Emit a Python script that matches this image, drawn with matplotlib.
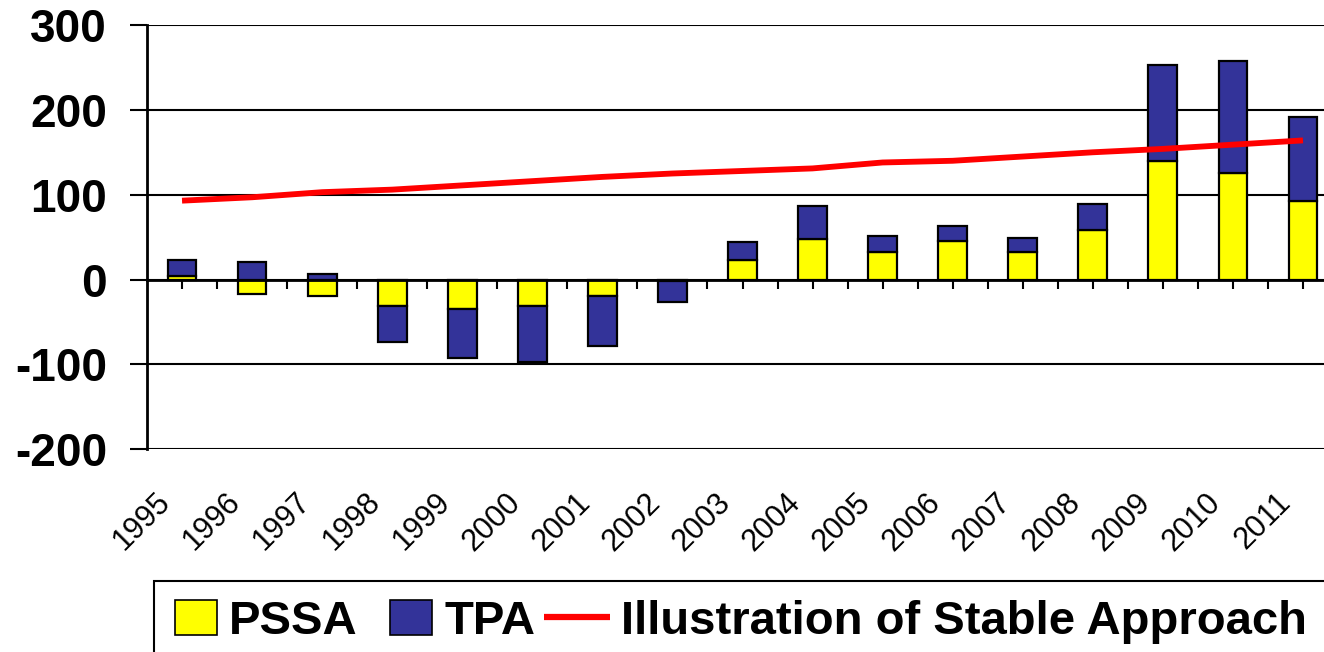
import numpy as np
import matplotlib
matplotlib.use("Agg")
import matplotlib.pyplot as plt
import matplotlib.patches as mpatches
from matplotlib.lines import Line2D
from matplotlib.legend_handler import HandlerPatch

plt.rcParams['font.family'] = ['Liberation Sans', 'DejaVu Sans']

years = ['1995', '1996', '1997', '1998', '1999', '2000', '2001', '2002', '2003',
         '2004', '2005', '2006', '2007', '2008', '2009', '2010', '2011']
pssa = [4, -17, -19, -31, -35, -31, -19, -2, 23, 48, 32, 46, 32, 58, 140, 126, 93]
tpa = [19, 21, 7, -42, -57, -66, -59, -25, 21, 39, 19, 17, 17, 31, 113, 132, 99]
stable = [93, 97, 103, 106, 111, 116, 121, 125, 128, 131, 138, 140, 145, 150, 154, 159, 164]
y_ticks = [-200, -100, 0, 100, 200, 300]

W, H = 1324, 652
fig = plt.figure(figsize=(W / 100, H / 100), dpi=100)
ax = fig.add_axes([147 / W, 202.7 / H, (1338 - 147) / W, (627 - 202.7) / H])

x = np.arange(len(years))
tpa_bottom = [p if (p >= 0) == (t >= 0) else 0 for p, t in zip(pssa, tpa)]

bw = 0.41
ax.bar(x, pssa, width=bw, color='#FFFF00', edgecolor='black', linewidth=1.6,
       zorder=2, label='PSSA')
ax.bar(x, tpa, width=bw, bottom=tpa_bottom, color='#333399', edgecolor='black',
       linewidth=1.6, zorder=2, label='TPA')
ax.plot(x, stable, color='#FF0000', linewidth=4.2, zorder=3,
        solid_capstyle='butt', label='Illustration of Stable Approach')

ax.set_xlim(-0.5, len(years) - 0.5)
ax.set_ylim(min(y_ticks), max(y_ticks))
ax.set_yticks(y_ticks)
ax.set_yticklabels([str(v) for v in y_ticks], fontsize=33, fontweight='bold')
ax.yaxis.grid(True, color='black', linewidth=1.5, zorder=0)
ax.set_axisbelow(True)
ax.tick_params(axis='y', direction='out', length=12.2, width=1.5, pad=16.5,
               colors='black')

for s in ['top', 'right']:
    ax.spines[s].set_visible(False)
ax.spines['left'].set_linewidth(2)
ax.spines['bottom'].set_position(('data', 0))
ax.spines['bottom'].set_linewidth(2)
ax.spines['bottom'].set_zorder(2.5)

ax.set_xticks(np.arange(0, len(years) - 0.49, 0.5))
ax.tick_params(axis='x', direction='out', length=6.5, width=1.5,
               labelbottom=False)

for xi, lab in zip(x, years):
    ax.annotate(lab, xy=(xi, 0), xycoords=('data', 'axes fraction'),
                xytext=(-12, -35), textcoords='offset points',
                rotation=45, ha='right', va='center', rotation_mode='anchor',
                fontsize=22, annotation_clip=False)


def square_patch(legend, orig_handle, xdescent, ydescent, width, height, fontsize):
    w = height * 44 / 36
    return mpatches.Rectangle((width - w - xdescent, -ydescent), w, height)


handles = [mpatches.Patch(facecolor='#FFFF00', edgecolor='black', linewidth=1.2),
           mpatches.Patch(facecolor='#333399', edgecolor='black', linewidth=1.2),
           Line2D([], [], color='#FF0000', linewidth=4.5, solid_capstyle='butt')]
labels = ['PSSA', 'TPA', 'Illustration of Stable Approach']
hm = {handles[0]: HandlerPatch(patch_func=square_patch),
      handles[1]: HandlerPatch(patch_func=square_patch)}
leg = fig.legend(handles, labels, handler_map=hm, loc='center left',
                 bbox_to_anchor=(152 / W, 1 - 622 / H),
                 bbox_transform=fig.transFigure, ncol=3, frameon=False,
                 prop={'size': 34, 'weight': 'bold'}, handlelength=1.38,
                 handleheight=0.76, handletextpad=0.25, columnspacing=0.2,
                 borderpad=0, borderaxespad=0)

frame = mpatches.Rectangle((154 / W, -0.1), 1.0, (H - 580.7) / H + 0.1,
                           transform=fig.transFigure, fill=False,
                           edgecolor='black', linewidth=1.5)
fig.add_artist(frame)

fig.savefig('out.png', dpi=100)
